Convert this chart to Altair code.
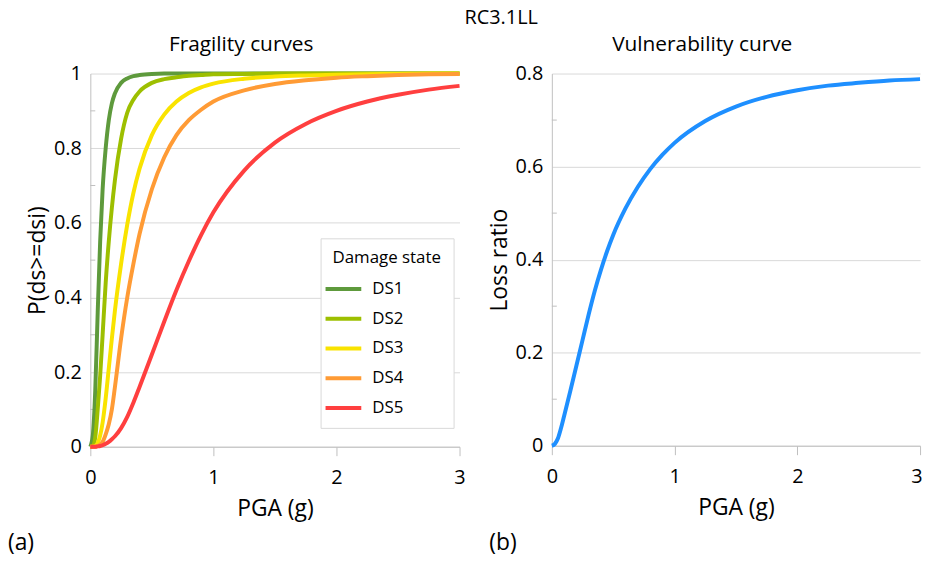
import altair as alt
import pandas as pd

FONT = "Open Sans"

# ---------------- data ----------------
frag_pga = [0, 0.02, 0.04, 0.06, 0.08, 0.1, 0.125, 0.15, 0.175, 0.2, 0.25, 0.3, 0.35, 0.4,
            0.5, 0.6, 0.7, 0.8, 0.9, 1.0, 1.25, 1.5, 1.75, 2.0, 2.25, 2.5, 2.75, 3.0]
ds1 = [0, 0.03, 0.15, 0.36, 0.55, 0.69, 0.80, 0.875, 0.92, 0.947, 0.975, 0.987, 0.993, 0.996,
       0.999, 1, 1, 1, 1, 1, 1, 1, 1, 1, 1, 1, 1, 1]
ds2 = [0, 0.002, 0.025, 0.10, 0.19, 0.30, 0.44, 0.55, 0.64, 0.715, 0.825, 0.895, 0.93, 0.952,
       0.975, 0.985, 0.99, 0.994, 0.996, 0.998, 0.999, 1, 1, 1, 1, 1, 1, 1]
ds3 = [0, 0, 0.002, 0.01, 0.03, 0.065, 0.13, 0.21, 0.29, 0.365, 0.49, 0.595, 0.68, 0.745,
       0.835, 0.89, 0.925, 0.948, 0.963, 0.973, 0.986, 0.992, 0.995, 0.997, 0.998, 0.999, 1, 1]
ds4 = [0, 0, 0, 0.002, 0.006, 0.013, 0.033, 0.06, 0.10, 0.16, 0.29, 0.40, 0.49, 0.57,
       0.69, 0.775, 0.835, 0.875, 0.903, 0.925, 0.955, 0.972, 0.982, 0.989, 0.993, 0.996, 0.998, 0.999]
ds5 = [0, 0, 0, 0.001, 0.002, 0.004, 0.008, 0.013, 0.02, 0.028, 0.05, 0.08, 0.118, 0.16,
       0.247, 0.335, 0.42, 0.497, 0.567, 0.628, 0.74, 0.815, 0.865, 0.90, 0.925, 0.943, 0.957, 0.967]
states = ["DS1", "DS2", "DS3", "DS4", "DS5"]
state_colors = ["#5E9A3C", "#9DBF00", "#F9E300", "#FF9B35", "#FF3F3F"]

vul_pga = [0, 0.025, 0.05, 0.075, 0.1, 0.15, 0.2, 0.25, 0.3, 0.35, 0.4, 0.45, 0.5, 0.6, 0.7,
           0.8, 0.9, 1.0, 1.25, 1.5, 1.75, 2.0, 2.25, 2.5, 2.75, 3.0]
loss = [0, 0.004, 0.016, 0.038, 0.064, 0.117, 0.172, 0.227, 0.282, 0.333, 0.378, 0.418, 0.453,
        0.51, 0.556, 0.594, 0.625, 0.651, 0.698, 0.729, 0.75, 0.764, 0.774, 0.78, 0.785, 0.788]

x_ticks = [0, 1, 2, 3]
frag_ticks = [0, 0.2, 0.4, 0.6, 0.8, 1.0]
frag_minor = [0.1, 0.3, 0.5, 0.7, 0.9]
vul_ticks = [0, 0.2, 0.4, 0.6, 0.8]
vul_minor = [0.1, 0.3, 0.5, 0.7]

# ---------------- tables ----------------
rows = []
for s, vals in zip(states, [ds1, ds2, ds3, ds4, ds5]):
    for x, v in zip(frag_pga, vals):
        rows.append({"pga": x, "p": v, "state": s})
frag_df = pd.DataFrame(rows)
vul_df = pd.DataFrame({"pga": vul_pga, "p": loss})

GRID = "#D9D9D9"
AXC = "#BFBFBF"


def x_axis(last_right=False):
    kw = {}
    if last_right:
        kw["labelAlign"] = {"condition": {"test": "datum.value === 3", "value": "right"}, "value": "center"}
        kw["labelOffset"] = {"condition": {"test": "datum.value === 3", "value": 2}, "value": 0}
    return alt.Axis(values=x_ticks, grid=False, domainColor=AXC, tickColor=AXC, tickSize=9,
                    labelFont=FONT, labelFontSize=20, labelColor="black", labelPadding=12,
                    labelFlush=False, format="d", title="PGA (g)", titleFont=FONT,
                    titleFontSize=23, titleFontWeight="normal", titleColor="black",
                    titlePadding=10, **kw)


def y_axis(vals, title):
    return alt.Axis(values=vals, grid=True, gridColor=GRID, domainColor=AXC, ticks=False,
                    tickSize=0, labelFont=FONT, labelFontSize=20, labelColor="black",
                    labelPadding=9, format="~g", title=title, titleFont=FONT,
                    titleFontSize=23, titleFontWeight="normal", titleColor="black",
                    titlePadding=4)


def sub_title(text):
    return alt.TitleParams(text, font=FONT, fontSize=21, fontWeight="normal", color="black",
                           anchor="middle", baseline="alphabetic", offset=-8, dx=-34)


# ---------------- left panel ----------------
xs_l = alt.Scale(domain=[0, 3], nice=False)
ys_l = alt.Scale(domain=[0, 1], nice=False)

frag_lines = alt.Chart(frag_df).mark_line(strokeWidth=4, interpolate="monotone").encode(
    x=alt.X("pga:Q", scale=xs_l, axis=x_axis()),
    y=alt.Y("p:Q", scale=ys_l, axis=y_axis(frag_ticks, "P(ds>=dsi)")),
    color=alt.Color("state:N", scale=alt.Scale(domain=states, range=state_colors),
                    legend=alt.Legend(orient="none", legendX=232, legendY=166,
                                      title="Damage state", titleFont=FONT, titleFontSize=17,
                                      titleFontWeight="normal", titleColor="black",
                                      labelFont=FONT, labelFontSize=17, labelColor="black",
                                      symbolType="M-2,0H2", symbolSize=324,
                                      symbolStrokeWidth=4, fillColor="white",
                                      strokeColor=GRID, padding=12, rowPadding=11,
                                      titlePadding=11, labelOffset=18)),
)
frag_minor_ticks = alt.Chart(pd.DataFrame({"p": frag_minor})).mark_rule(color=AXC).encode(
    y=alt.Y("p:Q", scale=ys_l, axis=y_axis(frag_ticks, "P(ds>=dsi)")),
    x=alt.value(0), x2=alt.value(5),
)
label_a = alt.Chart(pd.DataFrame({"t": ["(a)"]})).mark_text(
    font=FONT, fontSize=23, align="left", baseline="middle", color="black"
).encode(text="t:N", x=alt.value(-83), y=alt.value(473))

left = alt.layer(frag_minor_ticks, frag_lines, label_a).properties(
    width=372, height=376, title=sub_title("Fragility curves"))

# ---------------- right panel ----------------
xs_r = alt.Scale(domain=[0, 3], nice=False)
ys_r = alt.Scale(domain=[0, 0.8], nice=False)

vul_line = alt.Chart(vul_df).mark_line(strokeWidth=4, interpolate="monotone", color="#1E8FFF").encode(
    x=alt.X("pga:Q", scale=xs_r, axis=x_axis(last_right=True)),
    y=alt.Y("p:Q", scale=ys_r, axis=y_axis(vul_ticks, "Loss ratio")),
)
vul_minor_ticks = alt.Chart(pd.DataFrame({"p": vul_minor})).mark_rule(color=AXC).encode(
    y=alt.Y("p:Q", scale=ys_r, axis=y_axis(vul_ticks, "Loss ratio")),
    x=alt.value(0), x2=alt.value(5),
)
label_b = alt.Chart(pd.DataFrame({"t": ["(b)"]})).mark_text(
    font=FONT, fontSize=23, align="left", baseline="middle", color="black"
).encode(text="t:N", x=alt.value(-63), y=alt.value(473))

right = alt.layer(vul_minor_ticks, vul_line, label_b).properties(
    width=371, height=375, title=sub_title("Vulnerability curve"))

chart = alt.hconcat(left, right, spacing=20).properties(
    title=alt.TitleParams("RC3.1LL", font=FONT, fontSize=20, fontWeight="normal",
                          color="black", anchor="start", dx=460, baseline="top", offset=6),
    padding={"left": 8, "top": 6, "right": 0, "bottom": 0},
    background="white",
).configure_view(stroke=None)

chart.save("out.html", embed_options={"renderer": "svg", "actions": False})
